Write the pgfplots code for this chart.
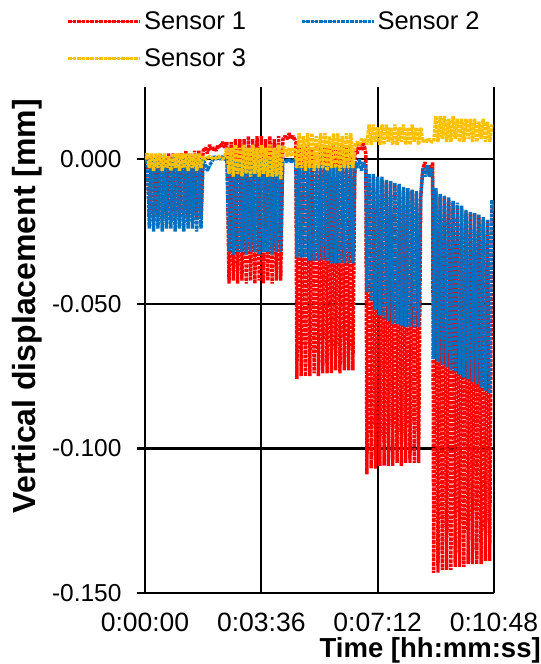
\documentclass[border=0pt]{standalone}
\usepackage{fontspec}
\setmainfont{Liberation Sans}
\usepackage{pgfplots}
\pgfplotsset{compat=1.18}
\definecolor{sone}{HTML}{FF0000}
\definecolor{stwo}{HTML}{0070C0}
\definecolor{sthree}{HTML}{FFC000}
\begin{document}
\begin{tikzpicture}
\useasboundingbox (-145bp,-71bp) rectangle (396bp,593bp);
\begin{axis}[
  at={(0,0)}, anchor=south west,
  scale only axis, width=349bp, height=506bp,
  xmin=0, xmax=648, ymin=-0.15, ymax=0.025,
  axis lines=left, axis line style={-, black, line width=2.2bp},
  xtick={0,216,432,648}, xticklabels={0:00:00,0:03:36,0:07:12,0:10:48},
  ytick={-0.15,-0.1,-0.05,0}, yticklabels={-0.150,-0.100,-0.050,0.000},
  grid=major, major grid style={black, line width=2.2bp},
  xtick style={draw=none},
  ytick style={black, line width=2.2bp},
  tick align=outside, major tick length=8bp,
  xticklabel style={font=\fontsize{26.5bp}{30bp}\selectfont, yshift=-8bp},
  yticklabel style={font=\fontsize{24.5bp}{30bp}\selectfont, xshift=-12bp},
  ylabel={Vertical displacement [mm]},
  ylabel style={font=\fontsize{32bp}{36bp}\selectfont\bfseries,
    at={(axis description cs:-0.338,0.567)}, anchor=center},
  xlabel={Time [hh:mm:ss]},
  xlabel style={font=\fontsize{27.5bp}{32bp}\selectfont\bfseries,
    at={(axis description cs:1.144,-0.113)}, anchor=east},
  legend columns=2,
  legend cell align=left,
  legend style={at={(axis description cs:-0.225,1.153)}, anchor=north west,
    draw=none, fill=none, inner sep=0pt,
    font=\fontsize{25.5bp}{30bp}\selectfont,
    /tikz/every even column/.append style={column sep=52bp},
    row sep=14bp},
  legend image code/.code={\path (0bp,0bp) -- (72bp,0bp);
    \draw[#1, solid, line width=1.3bp, dash pattern=on 1.3bp off 1.7bp] (0bp,0bp) -- (62bp,0bp);},
  every axis plot/.append style={densely dotted, line width=3.4bp, line join=bevel},
]
\addplot[sone] coordinates {
(0,0.000) (2,0.001)
(4,0.001) (8,-0.020) (12,0.001) (16,-0.021) (20,0.001) (24,-0.020) (28,0.002) (32,-0.021) (36,0.001) (40,-0.020) (44,0.002) (48,-0.021) (52,0.002) (56,-0.020) (60,0.002) (64,-0.021) (68,0.002) (72,-0.020) (76,0.003) (80,-0.021) (84,0.002) (88,-0.020) (92,0.003) (96,-0.021) (100,0.003) (104,-0.020) (108,0.003)
(112,0.004) (116,0.002) (120,0.005) (124,0.003) (128,0.004) (132,0.003) (136,0.005) (140,0.004) (144,0.006) (148,0.004)
(152,0.006) (156,-0.043) (160,0.006) (164,-0.042) (168,0.007) (172,-0.043) (176,0.007) (180,-0.042) (184,0.007) (188,-0.043) (192,0.008) (196,-0.042) (200,0.007) (204,-0.043) (208,0.008) (212,-0.042) (216,0.008) (220,-0.043) (224,0.007) (228,-0.042) (232,0.008) (236,-0.043) (240,0.007) (244,-0.042) (248,0.008) (252,-0.042) (256,0.007)
(260,0.008) (264,0.007) (268,0.009) (272,0.007) (276,0.008) (280,0.006)
(282,-0.076) (286,0.005) (290,-0.075) (294,0.004) (298,-0.075) (302,0.005) (306,-0.075) (310,0.004) (314,-0.074) (318,0.005) (322,-0.075) (326,0.004) (330,-0.074) (334,0.005) (338,-0.074) (342,0.004) (346,-0.074) (350,0.005) (354,-0.073) (358,0.004) (362,-0.074) (366,0.005) (370,-0.073) (374,0.004) (378,-0.073) (382,0.005) (386,-0.073)
(390,0.004) (394,0.002) (398,0.006) (402,0.003) (406,0.006) (410,0.002)
(412,-0.109) (416,-0.006) (420,-0.107) (424,-0.006) (428,-0.107) (432,-0.007) (436,-0.106) (440,-0.007) (444,-0.106) (448,-0.008) (452,-0.106) (456,-0.008) (460,-0.106) (464,-0.009) (468,-0.105) (472,-0.009) (476,-0.106) (480,-0.010) (484,-0.105) (488,-0.011) (492,-0.105) (496,-0.011) (500,-0.105) (504,-0.012) (508,-0.105) (512,-0.013)
(516,-0.003) (520,-0.001) (524,-0.005) (528,-0.002) (532,-0.006) (534,-0.001)
(536,-0.143) (540,-0.011) (544,-0.143) (548,-0.013) (552,-0.142) (556,-0.013) (560,-0.142) (564,-0.014) (568,-0.142) (572,-0.015) (576,-0.141) (580,-0.016) (584,-0.141) (588,-0.017) (592,-0.141) (596,-0.018) (600,-0.140) (604,-0.019) (608,-0.140) (612,-0.019) (616,-0.140) (620,-0.020) (624,-0.140) (628,-0.021) (632,-0.139) (636,-0.021) (640,-0.139)
(644,-0.017) (648,-0.016)
};
\addlegendentry{Sensor 1}
\addplot[stwo] coordinates {
(0,0.000) (2,-0.001)
(4,0.001) (8,-0.024) (12,0.000) (16,-0.025) (20,0.001) (24,-0.024) (28,0.000) (32,-0.025) (36,0.001) (40,-0.024) (44,0.000) (48,-0.024) (52,0.001) (56,-0.025) (60,0.000) (64,-0.024) (68,0.001) (72,-0.025) (76,0.000) (80,-0.024) (84,0.001) (88,-0.024) (92,0.000) (96,-0.025) (100,0.001) (104,-0.024) (108,0.000)
(112,-0.002) (116,-0.004) (120,-0.002) (124,-0.001) (128,0.001) (132,0.000) (136,0.001) (140,0.000) (144,0.001) (148,0.000)
(152,0.000) (156,-0.032) (160,0.000) (164,-0.033) (168,0.000) (172,-0.032) (176,0.000) (180,-0.032) (184,0.000) (188,-0.033) (192,0.000) (196,-0.032) (200,0.000) (204,-0.032) (208,0.000) (212,-0.033) (216,0.000) (220,-0.032) (224,0.000) (228,-0.032) (232,0.000) (236,-0.033) (240,0.000) (244,-0.032) (248,0.000) (252,-0.032) (256,0.000)
(260,0.000) (264,-0.001) (268,0.000) (272,-0.001) (276,0.000) (280,-0.001)
(282,-0.034) (286,-0.002) (290,-0.034) (294,-0.002) (298,-0.034) (302,-0.002) (306,-0.035) (310,-0.002) (314,-0.035) (318,-0.002) (322,-0.035) (326,-0.002) (330,-0.035) (334,-0.002) (338,-0.035) (342,-0.002) (346,-0.036) (350,-0.002) (354,-0.036) (358,-0.002) (362,-0.036) (366,-0.002) (370,-0.036) (374,-0.002) (378,-0.036) (382,-0.002) (386,-0.036)
(390,-0.001) (394,-0.003) (398,0.000) (402,-0.004) (406,-0.001) (410,-0.003)
(412,-0.046) (416,-0.005) (420,-0.049) (424,-0.005) (428,-0.052) (432,-0.006) (436,-0.054) (440,-0.006) (444,-0.055) (448,-0.007) (452,-0.056) (456,-0.0075) (460,-0.057) (464,-0.008) (468,-0.057) (472,-0.0085) (476,-0.0575) (480,-0.0095) (484,-0.058) (488,-0.010) (492,-0.058) (496,-0.0105) (500,-0.058) (504,-0.011) (508,-0.058) (512,-0.0125)
(516,-0.003) (520,-0.006) (524,-0.002) (528,-0.006) (532,-0.003) (534,-0.006)
(536,-0.069) (540,-0.010) (544,-0.070) (548,-0.012) (552,-0.071) (556,-0.0125) (560,-0.072) (564,-0.013) (568,-0.073) (572,-0.0143) (576,-0.0735) (580,-0.015) (584,-0.0745) (588,-0.016) (592,-0.0755) (596,-0.0175) (600,-0.076) (604,-0.018) (608,-0.077) (612,-0.0185) (616,-0.0778) (620,-0.019) (624,-0.079) (628,-0.020) (632,-0.080) (636,-0.021) (640,-0.081)
(644,-0.014) (648,-0.018)
};
\addlegendentry{Sensor 2}
\addplot[sthree] coordinates {
(0,0.000) (2,0.001)
(4,0.002) (8,-0.003) (12,0.002) (16,-0.004) (20,0.002) (24,-0.003) (28,0.002) (32,-0.004) (36,0.002) (40,-0.003) (44,0.001) (48,-0.004) (52,0.002) (56,-0.003) (60,0.002) (64,-0.004) (68,0.002) (72,-0.003) (76,0.002) (80,-0.004) (84,0.002) (88,-0.003) (92,0.002) (96,-0.004) (100,0.002) (104,-0.003) (108,0.001)
(112,0.000) (120,0.001) (128,0.000) (136,0.001) (144,0.000) (148,0.001)
(152,0.004) (156,-0.005) (160,0.004) (164,-0.006) (168,0.005) (172,-0.005) (176,0.004) (180,-0.006) (184,0.005) (188,-0.005) (192,0.004) (196,-0.006) (200,0.005) (204,-0.005) (208,0.004) (212,-0.006) (216,0.005) (220,-0.005) (224,0.004) (228,-0.006) (232,0.005) (236,-0.006) (240,0.004) (244,-0.006) (248,0.005) (252,-0.007) (256,0.004)
(260,0.004) (264,0.001) (268,0.004) (272,0.001) (276,0.004) (280,0.002)
(282,-0.003) (286,0.009) (290,-0.003) (294,0.008) (298,-0.004) (302,0.009) (306,-0.003) (310,0.009) (314,-0.004) (318,0.008) (322,-0.003) (326,0.009) (330,-0.003) (334,0.009) (338,-0.004) (342,0.008) (346,-0.003) (350,0.009) (354,-0.003) (358,0.009) (362,-0.004) (366,0.008) (370,-0.003) (374,0.009) (378,-0.003) (382,0.009) (386,-0.003)
(390,0.005) (394,0.006) (398,0.005) (402,0.007) (406,0.006) (410,0.007)
(412,0.005) (416,0.012) (420,0.005) (424,0.012) (428,0.006) (432,0.011) (436,0.005) (440,0.012) (444,0.005) (448,0.012) (452,0.006) (456,0.011) (460,0.005) (464,0.012) (468,0.005) (472,0.011) (476,0.006) (480,0.012) (484,0.005) (488,0.011) (492,0.005) (496,0.012) (500,0.006) (504,0.011) (508,0.005) (512,0.011)
(516,0.006) (520,0.007) (524,0.006) (528,0.007) (532,0.006)
(536,0.006) (540,0.015) (544,0.006) (548,0.015) (552,0.007) (556,0.015) (560,0.006) (564,0.014) (568,0.006) (572,0.015) (576,0.007) (580,0.014) (584,0.006) (588,0.014) (592,0.006) (596,0.014) (600,0.007) (604,0.014) (608,0.006) (612,0.014) (616,0.006) (620,0.013) (624,0.007) (628,0.014) (632,0.006) (636,0.013) (640,0.006)
(644,0.012)
};
\addlegendentry{Sensor 3}
\end{axis}
\end{tikzpicture}
\end{document}
